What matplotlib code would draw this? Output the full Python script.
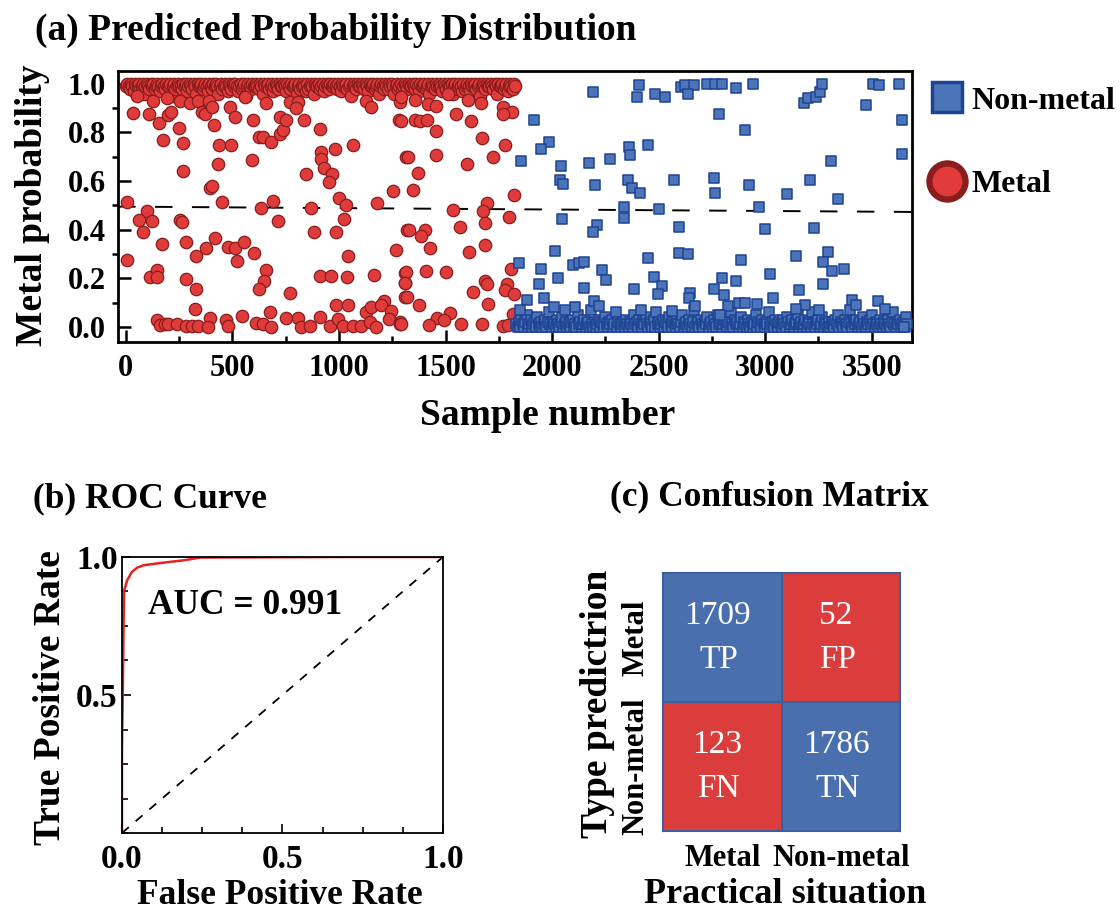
import matplotlib
matplotlib.use('Agg')

import matplotlib.pyplot as plt
import numpy as np
from matplotlib.colors import ListedColormap
from matplotlib.lines import Line2D
from matplotlib.ticker import MultipleLocator

plt.rcParams['font.family'] = ['Liberation Serif', 'DejaVu Serif']

# ---- data: (a) predicted probabilities ----
# metal samples that sit off the near-1.0 band
metal_x = [31, 50, 109, 128, 155, 175, 194, 198, 211, 248, 256, 269, 269, 300, 339, 359, 370, 391, 402, 414,
           433, 437, 487, 491, 512, 558, 594, 597, 625, 641, 659, 683, 722, 737, 725, 753, 769, 808, 800, 836,
           847, 909, 917, 914, 930, 969, 952, 980, 1066, 1128, 1148, 1281, 1316, 1284,
           6, 394, 406, 453, 691, 636, 870, 1000, 1031, 1180, 1253, 97, 62, 123, 78, 256, 261, 714, 1023, 881,
           984, 1320, 167, 281, 331, 378, 417, 480, 511, 523, 553, 602, 1042, 1266, 6, 113, 148, 148, 281, 328,
           323, 659, 647, 623, 769, 909, 964, 1039, 1164, 1312, 1308, 1312, 984, 1042, 1125, 1148, 1209, 1198,
           1245, 1234, 1284, 675, 547, 394,
           144, 159, 183, 198, 238, 284, 308, 339, 383, 472, 480, 612, 644, 683, 753, 808, 823, 862, 909, 956,
           995, 1019, 1066, 1105, 1144, 1175, 1284,
           1292, 1355, 1417, 1456, 1511, 1605, 1667, 1769, 1812, 1772, 1547, 1620, 1292, 1355, 1381, 1412, 1453,
           1672, 1781, 1323, 1453, 1602, 1722, 1373, 1347, 1823, 1693, 1537, 1678, 1800, 1683, 1566, 1328, 1402,
           1386, 1425, 1687, 1612, 1316, 1409, 1500, 1312, 1683, 1694, 1788, 1777, 1823, 1809, 1319, 1375, 1631,
           1698, 1522, 1459, 1495, 1422, 1573, 1672, 1769, 1792, 1819, 1292]
metal_p = [0.88, 0.95, 0.875, 0.93, 0.84, 0.77, 0.94, 0.87, 0.885, 0.82, 0.93, 0.755, 0.64, 0.92, 0.93, 0.885,
           0.875, 0.93, 0.905, 0.83, 0.67, 0.75, 0.905, 0.75, 0.865, 0.945, 0.685, 0.85, 0.78, 0.78, 0.92, 0.76,
           0.795, 0.81, 0.865, 0.85, 0.926, 0.926, 0.90, 0.85, 0.63, 0.815, 0.72, 0.69, 0.655, 0.63, 0.597, 0.73,
           0.75, 0.93, 0.905, 0.85, 0.70, 0.926,
           0.515, 0.57, 0.58, 0.515, 0.52, 0.49, 0.49, 0.53, 0.50, 0.51, 0.56, 0.477, 0.44, 0.436, 0.39, 0.44,
           0.43, 0.436, 0.444, 0.39, 0.39, 0.40, 0.34, 0.35, 0.29, 0.325, 0.364, 0.327, 0.325, 0.27, 0.35, 0.305,
           0.29, 0.315, 0.277, 0.206, 0.233, 0.206, 0.196, 0.158, 0.075, 0.236, 0.19, 0.155, 0.141, 0.209, 0.209,
           0.206, 0.213, 0.223, 0.182, 0.123, 0.092, 0.09, 0.062, 0.082, 0.107, 0.089, 0.066, 0.034, 0.02, 0.062,
           0.044, 0.037,
           0.03, 0.007, 0.014, 0.014, 0.014, 0.004, 0.004, 0.004, 0.0, 0.027, 0.004, 0.016, 0.014, 0.0, 0.037,
           0.037, 0.0, 0.004, 0.041, 0.004, 0.032, 0.004, 0.004, 0.004, 0.021, 0.0, 0.014,
           0.946, 0.933, 0.919, 0.908, 0.96, 0.933, 0.922, 0.905, 0.885, 0.875, 0.878, 0.846, 0.848, 0.85, 0.846,
           0.853, 0.807, 0.779, 0.748, 0.697, 0.709, 0.669, 0.697, 0.634, 0.565, 0.542, 0.51, 0.483, 0.478, 0.453,
           0.429, 0.412, 0.398, 0.398, 0.373, 0.325, 0.339, 0.309, 0.224, 0.23, 0.226, 0.181, 0.189, 0.176, 0.176,
           0.151, 0.137, 0.24, 0.123, 0.089, 0.144, 0.096, 0.058, 0.037, 0.03, 0.007, 0.014, 0.014, 0.004, 0.007,
           0.055, 0.014]

# metal samples crowded near 1.0 (samples 0..1828), in percent
metal_band_pct = [
    99, 100, 99, 98, 100, 99, 97, 100, 99, 99, 100, 98, 99, 100, 96, 99, 100, 99, 98, 100,
    99, 100, 98, 99, 100, 99, 97, 99, 100, 99, 98, 100, 99, 99, 100, 95, 99, 100, 98, 99,
    100, 99, 99, 98, 100, 99, 100, 97, 99, 100, 99, 98, 100, 99, 96, 100, 99, 99, 100, 98,
    99, 100, 99, 97, 100, 99, 98, 100, 99, 100, 99, 96, 99, 100, 98, 99, 100, 99, 97, 100,
    99, 98, 100, 99, 100, 99, 97, 99, 100, 98, 99, 100, 95, 99, 100, 99, 98, 100, 99, 99,
    100, 99, 98, 100, 99, 96, 100, 99, 99, 100, 98, 99, 100, 97, 99, 100, 99, 98, 100, 99,
    99, 100, 99, 97, 100, 99, 98, 100, 99, 99, 100, 96, 99, 100, 98, 99, 100, 99, 97, 100,
    98, 99, 100, 99, 96, 100, 99, 99, 100, 98, 99, 100, 97, 99, 100, 99, 98, 100, 99, 99,
    100, 99, 98, 100, 99, 97, 100, 99, 99, 100, 98, 99, 100, 95, 99, 100, 99, 98, 100, 99,
    99, 100, 99, 98, 100, 99, 97, 100, 99, 99, 100, 98, 99, 100, 96, 99, 100, 99, 98, 100,
    99, 98, 100, 99, 100, 99, 96, 99, 100, 98, 99, 100, 97, 99, 100, 99, 98, 100, 99, 99,
    100, 99, 98, 100, 99, 97, 100, 99, 99, 100, 98, 99, 100, 96, 99, 100, 99, 98, 100, 99,
    99, 100, 99, 97, 100, 99, 98, 100, 99, 99, 100, 96, 99, 100, 98, 99, 100, 99, 97, 100,
    98, 99, 100, 99, 97, 100, 99, 99, 100, 98, 99, 100, 95, 99, 100, 99, 98, 100, 99, 99,
    100, 99, 98, 100, 99, 96, 100, 99, 99, 100, 98, 99, 100, 97, 99, 100, 99, 98, 100, 99]
metal_band_range = (0, 1828)

# non-metal samples that sit off the near-0 band
nonmetal_x = [2191, 2409, 2398, 2484, 2530, 2605, 2625, 2667, 2636, 2725, 2766, 2797, 2863, 2941, 2784, 2906,
              3183, 3203, 3241, 3256, 3266, 3472, 3506, 3534, 3628, 3644, 3641,
              1914, 1984, 1948, 1855, 2042, 2175, 2273, 2359, 2367, 2448, 2039, 2050, 2203, 2358, 2373, 2412,
              2573, 2761, 2766, 2925, 3105, 3209, 3308, 3342,
              2339, 2339, 2500, 2969, 2045, 2209, 2194, 2597, 2998, 3230,
              2014, 1847, 1948, 2100, 2128, 2148, 2451, 2597, 2636, 2886, 2234, 2253, 2026, 1937, 2151, 2477,
              2516, 2495, 2383, 2797, 2863, 2761, 2808, 2828, 2647, 3022, 3147, 3295, 3272, 3316, 3370, 3273, 3159,
              1881, 1961, 2011, 2109, 2198, 2222, 2644, 2670, 2878, 2906, 2961, 3039, 3187, 3252, 3409, 3428, 3530,
              3561, 1850, 2063, 2417, 2562, 2787, 3145, 3650]
nonmetal_p = [0.967, 0.995, 0.947, 0.957, 0.947, 0.988, 0.997, 0.997, 0.96, 1.0, 1.0, 0.999, 0.981, 0.999,
              0.878, 0.812, 0.922, 0.94, 0.944, 0.967, 0.999, 0.912, 1.0, 0.995, 0.999, 0.85, 0.71,
              0.85, 0.761, 0.73, 0.682, 0.661, 0.675, 0.69, 0.741, 0.706, 0.748, 0.604, 0.59, 0.583, 0.606, 0.573,
              0.549, 0.606, 0.613, 0.551, 0.583, 0.546, 0.604, 0.682, 0.528,
              0.494, 0.45, 0.487, 0.494, 0.442, 0.421, 0.391, 0.412, 0.402, 0.405,
              0.313, 0.265, 0.24, 0.254, 0.263, 0.267, 0.285, 0.305, 0.302, 0.274, 0.236, 0.195, 0.203, 0.176,
              0.16, 0.206, 0.169, 0.137, 0.154, 0.202, 0.189, 0.154, 0.13, 0.086, 0.141, 0.219, 0.292, 0.309,
              0.267, 0.23, 0.24, 0.178, 0.151,
              0.112, 0.121, 0.082, 0.082, 0.107, 0.086, 0.117, 0.085, 0.1, 0.1, 0.096, 0.117, 0.089, 0.071, 0.11,
              0.089, 0.107, 0.075, 0.069, 0.071, 0.069, 0.066, 0.048, 0.075, 0.0]

# non-metal samples crowded near 0.0 (samples 1832..3668), in percent
nonmetal_band_pct = [
    1, 0, 2, 0, 3, 1, 0, 2, 5, 0, 1, 3, 0, 1, 2, 0, 4, 1, 0, 2,
    0, 1, 3, 0, 2, 6, 1, 0, 2, 1, 0, 3, 1, 0, 2, 4, 0, 1, 2, 0,
    1, 0, 2, 3, 0, 1, 0, 5, 1, 2, 0, 1, 3, 0, 1, 2, 0, 7, 1, 0,
    2, 0, 1, 3, 0, 2, 1, 0, 4, 1, 0, 2, 1, 3, 0, 1, 6, 0, 2, 1,
    0, 1, 2, 0, 3, 1, 0, 2, 1, 0, 5, 1, 2, 0, 3, 1, 0, 2, 1, 4,
    1, 0, 2, 1, 0, 3, 0, 6, 1, 2, 0, 1, 3, 0, 2, 1, 0, 4, 1, 0,
    2, 1, 0, 3, 1, 0, 2, 5, 0, 1, 2, 0, 3, 1, 0, 2, 7, 0, 1, 2,
    0, 3, 1, 0, 2, 1, 4, 0, 1, 2, 0, 3, 1, 0, 5, 1, 2, 0, 1, 3,
    1, 0, 2, 0, 6, 1, 0, 3, 1, 2, 0, 1, 4, 0, 2, 1, 0, 3, 1, 0,
    2, 0, 1, 5, 0, 2, 1, 0, 3, 1, 0, 2, 1, 6, 0, 1, 2, 0, 3, 1,
    0, 2, 1, 0, 3, 1, 0, 4, 2, 0, 1, 3, 0, 1, 2, 5, 0, 1, 2, 0,
    1, 3, 0, 2, 1, 0, 6, 1, 0, 2, 1, 3, 0, 1, 4, 0, 2, 1, 0, 2,
    0, 1, 2, 0, 3, 1, 5, 0, 2, 1, 0, 3, 1, 0, 2, 7, 1, 0, 2, 1,
    3, 0, 1, 2, 0, 4, 1, 0, 2, 1, 3, 0, 5, 1, 0, 2, 1, 0, 3, 1,
    0, 2, 1, 0, 3, 1, 0, 2, 6, 1, 0, 2, 1, 3, 0, 1, 2, 0, 4, 1]
nonmetal_band_range = (1832, 3668)

threshold_ends = [0.495, 0.473]

# ---- data: (b) ROC ----
roc_fpr = [0.0, 0.0, 0.003, 0.005, 0.007, 0.016, 0.031, 0.047, 0.067, 0.119, 0.192, 0.244, 0.69, 1.0]
roc_tpr = [0.0, 0.3, 0.55, 0.758, 0.879, 0.915, 0.946, 0.961, 0.97, 0.978, 0.988, 0.998, 1.0, 1.0]
auc = 0.991

# ---- data: (c) confusion matrix ----
cm_counts = [[1709, 52], [123, 1786]]
cm_tags = [['TP', 'FP'], ['FN', 'TN']]
cm_classes = ['Metal', 'Non-metal']

red = '#E03B3B'
red_edge = '#8A1D1D'
blue = '#4C74B8'
blue_edge = '#1F4394'

fig = plt.figure(figsize=(11.2, 9.11), dpi=100)

# ================= (a) =================
ax1 = fig.add_axes([0.1054, 0.6246, 0.709, 0.2975])
bx = np.linspace(metal_band_range[0], metal_band_range[1], len(metal_band_pct))
ax1.scatter(bx, np.array(metal_band_pct) / 100, s=80, marker='o', c=red, edgecolors=red_edge,
            linewidths=0.9, zorder=3)
ax1.scatter(metal_x, metal_p, s=80, marker='o', c=red, edgecolors=red_edge, linewidths=0.9, zorder=3)
nx = np.linspace(nonmetal_band_range[0], nonmetal_band_range[1], len(nonmetal_band_pct))
ax1.scatter(nx, np.array(nonmetal_band_pct) / 100, s=60, marker='s', c=blue, edgecolors=blue_edge,
            linewidths=1.1, zorder=3)
ax1.scatter(nonmetal_x, nonmetal_p, s=60, marker='s', c=blue, edgecolors=blue_edge, linewidths=1.1, zorder=3)
ax1.plot([-37, 3690], threshold_ends, color='black', lw=1.4, ls=(0, (9, 10)), zorder=2)

ax1.set_xlim(-37, 3690)
ax1.set_ylim(-0.062, 1.053)
ax1.xaxis.set_major_locator(MultipleLocator(500))
ax1.xaxis.set_minor_locator(MultipleLocator(250))
ax1.yaxis.set_major_locator(MultipleLocator(0.2))
ax1.yaxis.set_minor_locator(MultipleLocator(0.1))
ax1.yaxis.set_major_formatter(plt.FuncFormatter(lambda v, p: '%.1f' % v))
ax1.tick_params(which='major', direction='in', length=9, width=1.8, labelsize=22, pad=9)
ax1.tick_params(axis='x', which='minor', direction='in', length=4.5, width=1.8)
ax1.tick_params(axis='y', which='minor', direction='out', length=4, width=1.8)
for lab in ax1.get_xticklabels() + ax1.get_yticklabels():
    lab.set_fontweight('bold')
for sp in ax1.spines.values():
    sp.set_linewidth(2)
ax1.set_xlabel('Sample number', fontsize=27, fontweight='bold', va='center')
ax1.set_ylabel('Metal probability', fontsize=27, fontweight='bold', va='center')
ax1.xaxis.set_label_coords(0.5416, -0.273)
ax1.yaxis.set_label_coords(-0.108, 0.505)

handles = [Line2D([], [], ls='', marker='s', ms=22, mfc=blue, mec=blue_edge, mew=2.5),
           Line2D([], [], ls='', marker='o', ms=26, mfc=red, mec=red_edge, mew=4.5)]
ax1.legend(handles, ['Non-metal', 'Metal'], loc='upper left', bbox_to_anchor=(0.992, 1.026),
           frameon=False, prop={'size': 23, 'weight': 'bold'}, handlelength=1.2,
           handletextpad=0.15, labelspacing=1.7, borderaxespad=0.3)

fig.text(35 / 1120, 1 - 13 / 911, '(a) Predicted Probability Distribution', fontsize=27,
         fontweight='bold', ha='left', va='top')

# ================= (b) =================
ax2 = fig.add_axes([0.1089, 0.0856, 0.2866, 0.303])
ax2.plot([0, 1], [0, 1], color='black', lw=1.3, ls=(0, (5, 5)))
ax2.plot(roc_fpr, roc_tpr, color='#E8201E', lw=1.8)
ax2.set_xlim(0, 1)
ax2.set_ylim(0, 1)
ax2.set_xticks([0.0, 0.5, 1.0])
ax2.set_yticks([0.5, 1.0])
ax2.xaxis.set_minor_locator(MultipleLocator(0.125))
ax2.yaxis.set_minor_locator(MultipleLocator(0.125))
ax2.tick_params(which='major', direction='in', length=6.5, width=1.2, labelsize=24)
ax2.tick_params(axis='x', which='major', pad=8)
ax2.tick_params(axis='y', which='major', pad=3)
ax2.tick_params(which='minor', direction='in', length=4, width=1.2)
for lab in ax2.get_xticklabels() + ax2.get_yticklabels():
    lab.set_fontweight('bold')
for sp in ax2.spines.values():
    sp.set_linewidth(1.3)
ax2.text(0.081, 0.826, 'AUC = %.3f' % auc, transform=ax2.transAxes, fontsize=25.5,
         fontweight='bold', ha='left', va='center')
ax2.set_xlabel('False Positive Rate', fontsize=25.5, fontweight='bold', va='center')
ax2.set_ylabel('True Positive Rate', fontsize=27, fontweight='bold', va='center')
ax2.xaxis.set_label_coords(0.492, -0.228)
ax2.yaxis.set_label_coords(-0.224, 0.489)
fig.text(33 / 1120, 1 - 482 / 911, '(b) ROC Curve', fontsize=25.5, fontweight='bold',
         ha='left', va='top')

# ================= (c) =================
ax3 = fig.add_axes([0.592, 0.0878, 0.2116, 0.283])
cm_idx = np.array([[0, 1], [1, 0]])
ax3.imshow(cm_idx, cmap=ListedColormap(['#4A6FAF', '#DB3D3D']), aspect='auto')
ax3.axhline(0.5, color='#3D5E9E', lw=1.5)
ax3.axvline(0.5, color='#3D5E9E', lw=1.5)
for i in range(2):
    for j in range(2):
        ax3.text(j - 0.04, i - 0.17, str(cm_counts[i][j]), color='white', fontsize=24,
                 ha='center', va='center')
        ax3.text(j - 0.03, i + 0.17, cm_tags[i][j], color='white', fontsize=24,
                 ha='center', va='center')
for sp in ax3.spines.values():
    sp.set_color('#3D5E9E')
    sp.set_linewidth(1.5)
ax3.set_xticks([0, 1])
ax3.set_xticklabels(cm_classes, fontsize=22, fontweight='bold')
ax3.set_yticks([0, 1])
ax3.set_yticklabels(cm_classes, fontsize=22, fontweight='bold', rotation=90, va='center')
ax3.tick_params(length=0, pad=9)
ax3.set_xlabel('Practical situation', fontsize=26, fontweight='bold', va='center')
ax3.set_ylabel('Type predictrion', fontsize=27, fontweight='bold', va='center')
ax3.xaxis.set_label_coords(0.517, -0.248)
ax3.yaxis.set_label_coords(-0.278, 0.494)
fig.text(610 / 1120, 1 - 480 / 911, '(c) Confusion Matrix', fontsize=25.5, fontweight='bold',
         ha='left', va='top')

fig.savefig('out.png', dpi=100)
